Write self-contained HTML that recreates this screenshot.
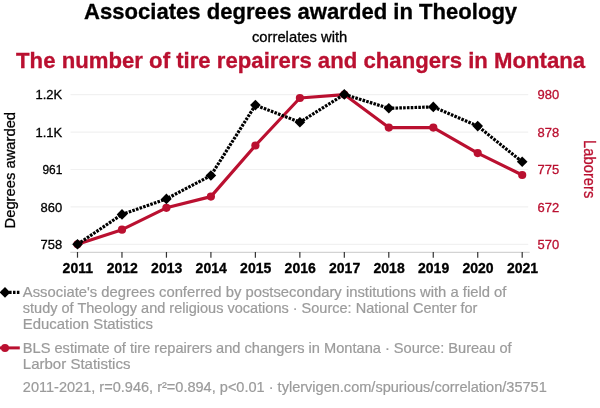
<!DOCTYPE html>
<html><head><meta charset="utf-8">
<style>
html,body{margin:0;padding:0;background:#fff;}
body{width:600px;height:408px;overflow:hidden;font-family:"Liberation Sans",sans-serif;}
svg{display:block;will-change:transform;}
text{font-family:"Liberation Sans",sans-serif;}
</style></head><body>
<svg width="600" height="408" viewBox="0 0 600 408">
<rect width="600" height="408" fill="#fff"/>
<text transform="translate(300.6,19.3) scale(1.004,1)" text-anchor="middle" font-size="22" font-weight="bold" fill="#000" stroke="#000" stroke-width="0.3">Associates degrees awarded in Theology</text>
<text transform="translate(299.6,41.8) scale(1.042,1)" text-anchor="middle" font-size="14.2" fill="#000" stroke="#000" stroke-width="0.3">correlates with</text>
<text transform="translate(300.6,67.5) scale(1.008,1)" text-anchor="middle" font-size="22" font-weight="bold" fill="#ba1030" stroke="#ba1030" stroke-width="0.3">The number of tire repairers and changers in Montana</text>
<g stroke="#f1f1f1" stroke-width="1.2">
<line x1="70.5" x2="528.2" y1="94.6" y2="94.6"/>
<line x1="70.5" x2="528.2" y1="132.05" y2="132.05"/>
<line x1="70.5" x2="528.2" y1="169.5" y2="169.5"/>
<line x1="70.5" x2="528.2" y1="206.95" y2="206.95"/>
<line x1="70.5" x2="528.2" y1="244.4" y2="244.4"/>
</g>
<line x1="70.3" x2="529.7" y1="252.3" y2="252.3" stroke="#c8c8c8" stroke-width="1"/>
<g stroke="#333" stroke-width="1.2">
<line x1="77.50" x2="77.50" y1="252" y2="257.7"/>
<line x1="121.97" x2="121.97" y1="252" y2="257.7"/>
<line x1="166.44" x2="166.44" y1="252" y2="257.7"/>
<line x1="210.91" x2="210.91" y1="252" y2="257.7"/>
<line x1="255.38" x2="255.38" y1="252" y2="257.7"/>
<line x1="299.85" x2="299.85" y1="252" y2="257.7"/>
<line x1="344.32" x2="344.32" y1="252" y2="257.7"/>
<line x1="388.79" x2="388.79" y1="252" y2="257.7"/>
<line x1="433.26" x2="433.26" y1="252" y2="257.7"/>
<line x1="477.73" x2="477.73" y1="252" y2="257.7"/>
<line x1="522.20" x2="522.20" y1="252" y2="257.7"/>
</g>
<text transform="translate(62.2,99.3) scale(1.03,1)" text-anchor="end" font-size="12.6" fill="#000" stroke="#000" stroke-width="0.3">1.2K</text>
<text transform="translate(62.2,136.8) scale(1.03,1)" text-anchor="end" font-size="12.6" fill="#000" stroke="#000" stroke-width="0.3">1.1K</text>
<text transform="translate(62.4,174.2) scale(0.95,1)" text-anchor="end" font-size="12.6" fill="#000" stroke="#000" stroke-width="0.3">961</text>
<text transform="translate(62.2,211.6) scale(1.03,1)" text-anchor="end" font-size="12.6" fill="#000" stroke="#000" stroke-width="0.3">860</text>
<text transform="translate(62.2,249.1) scale(1.03,1)" text-anchor="end" font-size="12.6" fill="#000" stroke="#000" stroke-width="0.3">758</text>
<text transform="translate(537.6,99.3) scale(1.03,1)" text-anchor="start" font-size="12.6" fill="#ba1030" stroke="#ba1030" stroke-width="0.3">980</text>
<text transform="translate(537.6,136.8) scale(1.03,1)" text-anchor="start" font-size="12.6" fill="#ba1030" stroke="#ba1030" stroke-width="0.3">878</text>
<text transform="translate(537.6,174.2) scale(1.03,1)" text-anchor="start" font-size="12.6" fill="#ba1030" stroke="#ba1030" stroke-width="0.3">775</text>
<text transform="translate(537.6,211.6) scale(1.03,1)" text-anchor="start" font-size="12.6" fill="#ba1030" stroke="#ba1030" stroke-width="0.3">672</text>
<text transform="translate(537.6,249.1) scale(1.03,1)" text-anchor="start" font-size="12.6" fill="#ba1030" stroke="#ba1030" stroke-width="0.3">570</text>
<text transform="translate(77.8,272.6)" text-anchor="middle" font-size="14" font-weight="bold" fill="#000" stroke="#000" stroke-width="0.3">2011</text>
<text transform="translate(122.3,272.6)" text-anchor="middle" font-size="14" font-weight="bold" fill="#000" stroke="#000" stroke-width="0.3">2012</text>
<text transform="translate(166.7,272.6)" text-anchor="middle" font-size="14" font-weight="bold" fill="#000" stroke="#000" stroke-width="0.3">2013</text>
<text transform="translate(211.2,272.6)" text-anchor="middle" font-size="14" font-weight="bold" fill="#000" stroke="#000" stroke-width="0.3">2014</text>
<text transform="translate(255.7,272.6)" text-anchor="middle" font-size="14" font-weight="bold" fill="#000" stroke="#000" stroke-width="0.3">2015</text>
<text transform="translate(300.2,272.6)" text-anchor="middle" font-size="14" font-weight="bold" fill="#000" stroke="#000" stroke-width="0.3">2016</text>
<text transform="translate(344.6,272.6)" text-anchor="middle" font-size="14" font-weight="bold" fill="#000" stroke="#000" stroke-width="0.3">2017</text>
<text transform="translate(389.1,272.6)" text-anchor="middle" font-size="14" font-weight="bold" fill="#000" stroke="#000" stroke-width="0.3">2018</text>
<text transform="translate(433.6,272.6)" text-anchor="middle" font-size="14" font-weight="bold" fill="#000" stroke="#000" stroke-width="0.3">2019</text>
<text transform="translate(478.0,272.6)" text-anchor="middle" font-size="14" font-weight="bold" fill="#000" stroke="#000" stroke-width="0.3">2020</text>
<text transform="translate(522.5,272.6)" text-anchor="middle" font-size="14" font-weight="bold" fill="#000" stroke="#000" stroke-width="0.3">2021</text>
<text transform="translate(15.4,170.2) rotate(-90) scale(0.985,1)" text-anchor="middle" font-size="15" fill="#000" stroke="#000" stroke-width="0.3">Degrees awarded</text>
<text transform="translate(584.3,169.2) rotate(90) scale(0.94,1)" text-anchor="middle" font-size="15.7" fill="#ba1030" stroke="#ba1030" stroke-width="0.3">Laborers</text>
<polyline fill="none" stroke="#ba1030" stroke-width="3.15" stroke-linejoin="round" points="77.5,244.3 122.0,229.7 166.4,207.8 210.9,196.6 255.4,145.5 299.9,98.0 344.3,94.6 388.8,127.6 433.3,127.6 477.7,153.1 522.2,175.0"/>
<g fill="#ba1030">
<circle cx="77.5" cy="244.3" r="4.1"/>
<circle cx="122.0" cy="229.7" r="4.1"/>
<circle cx="166.4" cy="207.8" r="4.1"/>
<circle cx="210.9" cy="196.6" r="4.1"/>
<circle cx="255.4" cy="145.5" r="4.1"/>
<circle cx="299.9" cy="98.0" r="4.1"/>
<circle cx="344.3" cy="94.6" r="4.1"/>
<circle cx="388.8" cy="127.6" r="4.1"/>
<circle cx="433.3" cy="127.6" r="4.1"/>
<circle cx="477.7" cy="153.1" r="4.1"/>
<circle cx="522.2" cy="175.0" r="4.1"/>
</g>
<polyline fill="none" stroke="#000" stroke-width="3.2" stroke-dasharray="2.6,1.2" points="77.5,244.3 122.0,214.4 166.4,198.9 210.9,175.5 255.4,105.1 299.9,122.2 344.3,94.4 388.8,108.3 433.3,106.9 477.7,126.1 522.2,161.8"/>
<g fill="#000">
<path d="M77.5,239.0 l5.3,5.3 -5.3,5.3 -5.3,-5.3z"/>
<path d="M122.0,209.1 l5.3,5.3 -5.3,5.3 -5.3,-5.3z"/>
<path d="M166.4,193.6 l5.3,5.3 -5.3,5.3 -5.3,-5.3z"/>
<path d="M210.9,170.2 l5.3,5.3 -5.3,5.3 -5.3,-5.3z"/>
<path d="M255.4,99.8 l5.3,5.3 -5.3,5.3 -5.3,-5.3z"/>
<path d="M299.9,116.9 l5.3,5.3 -5.3,5.3 -5.3,-5.3z"/>
<path d="M344.3,89.1 l5.3,5.3 -5.3,5.3 -5.3,-5.3z"/>
<path d="M388.8,103.0 l5.3,5.3 -5.3,5.3 -5.3,-5.3z"/>
<path d="M433.3,101.6 l5.3,5.3 -5.3,5.3 -5.3,-5.3z"/>
<path d="M477.7,120.8 l5.3,5.3 -5.3,5.3 -5.3,-5.3z"/>
<path d="M522.2,156.5 l5.3,5.3 -5.3,5.3 -5.3,-5.3z"/>
</g>
<line x1="1.3" x2="19.8" y1="292.4" y2="292.4" stroke="#000" stroke-width="3.2" stroke-dasharray="2.5,1.4"/>
<path d="M5,287.1 l5.3,5.3 -5.3,5.3 -5.3,-5.3z" fill="#000"/>
<line x1="0" x2="19.8" y1="347.9" y2="347.9" stroke="#ba1030" stroke-width="3"/>
<circle cx="5" cy="347.9" r="4" fill="#ba1030"/>
<text transform="translate(22.8,297.0) scale(1.066,1)" text-anchor="start" font-size="13.9" fill="#9b9b9b" stroke="#9b9b9b" stroke-width="0.2">Associate's degrees conferred by postsecondary institutions with a field of</text>
<text transform="translate(22.8,313.2) scale(1.0448,1)" text-anchor="start" font-size="13.9" fill="#9b9b9b" stroke="#9b9b9b" stroke-width="0.2">study of Theology and religious vocations · Source: National Center for</text>
<text transform="translate(22.8,329.3) scale(1.0734,1)" text-anchor="start" font-size="13.9" fill="#9b9b9b" stroke="#9b9b9b" stroke-width="0.2">Education Statistics</text>
<text transform="translate(22.8,353.0) scale(1.0522,1)" text-anchor="start" font-size="13.9" fill="#9b9b9b" stroke="#9b9b9b" stroke-width="0.2">BLS estimate of tire repairers and changers in Montana · Source: Bureau of</text>
<text transform="translate(22.8,369.3) scale(1.0808,1)" text-anchor="start" font-size="13.9" fill="#9b9b9b" stroke="#9b9b9b" stroke-width="0.2">Larbor Statistics</text>
<text transform="translate(22.8,392.3) scale(1.047,1)" text-anchor="start" font-size="13.9" fill="#9b9b9b" stroke="#9b9b9b" stroke-width="0.2">2011-2021, r=0.946, r²=0.894, p&lt;0.01 · tylervigen.com/spurious/correlation/35751</text>
</svg>
</body></html>
